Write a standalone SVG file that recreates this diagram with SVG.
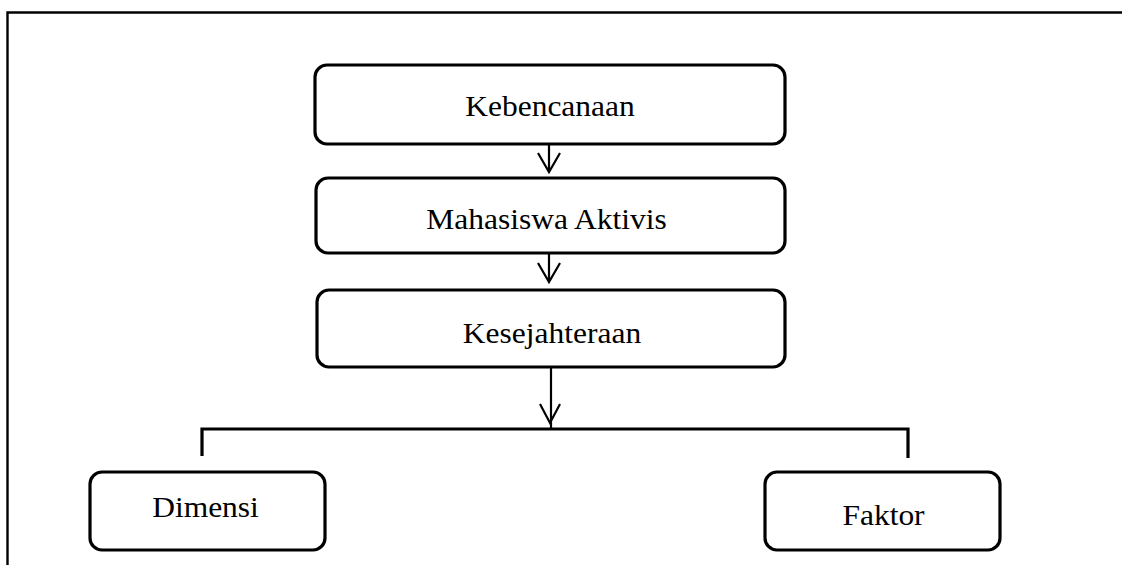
<svg xmlns="http://www.w3.org/2000/svg" width="1122" height="565" viewBox="0 0 1122 565">
<style>
.box{fill:#fff;stroke:#000;stroke-width:3.2}
.lbl{font-family:"Liberation Serif","Times New Roman",serif;font-size:30px;fill:#000;text-anchor:middle}
.ln{fill:none;stroke:#000;stroke-width:2.2}
.thick{fill:none;stroke:#000;stroke-width:3.2}
</style>
<rect width="1122" height="565" fill="#fff"/>
<path d="M7.5,565 V12.5 H1122" fill="none" stroke="#000" stroke-width="2.4"/>
<g id="connectors">
<path class="ln" d="M549,144 V172 M538,153 L549,172 L560,153"/>
<path class="ln" d="M549,253 V282 M538,263 L549,282 L560,263"/>
<path class="ln" d="M551,367 V429 M540,404 L550,423 L560,404"/>
<path class="thick" d="M202,456 V429 H908 V458"/>
</g>
<g id="kebencanaan">
<rect class="box" x="315" y="65" width="470" height="79" rx="12"/>
<text class="lbl" transform="translate(550,115.5) scale(1.05,1)">Kebencanaan</text>
</g>
<g id="mahasiswa-aktivis">
<rect class="box" x="316" y="178" width="469" height="75" rx="12"/>
<text class="lbl" transform="translate(546.5,229) scale(1.05,1)">Mahasiswa Aktivis</text>
</g>
<g id="kesejahteraan">
<rect class="box" x="317" y="290" width="468" height="77" rx="12"/>
<text class="lbl" transform="translate(552,343) scale(1.05,1)">Kesejahteraan</text>
</g>
<g id="dimensi">
<rect class="box" x="90" y="472" width="235" height="78" rx="12"/>
<text class="lbl" transform="translate(205.5,517) scale(1.05,1)">Dimensi</text>
</g>
<g id="faktor">
<rect class="box" x="765" y="472" width="235" height="78" rx="12"/>
<text class="lbl" transform="translate(883.5,525) scale(1.05,1)">Faktor</text>
</g>
</svg>
